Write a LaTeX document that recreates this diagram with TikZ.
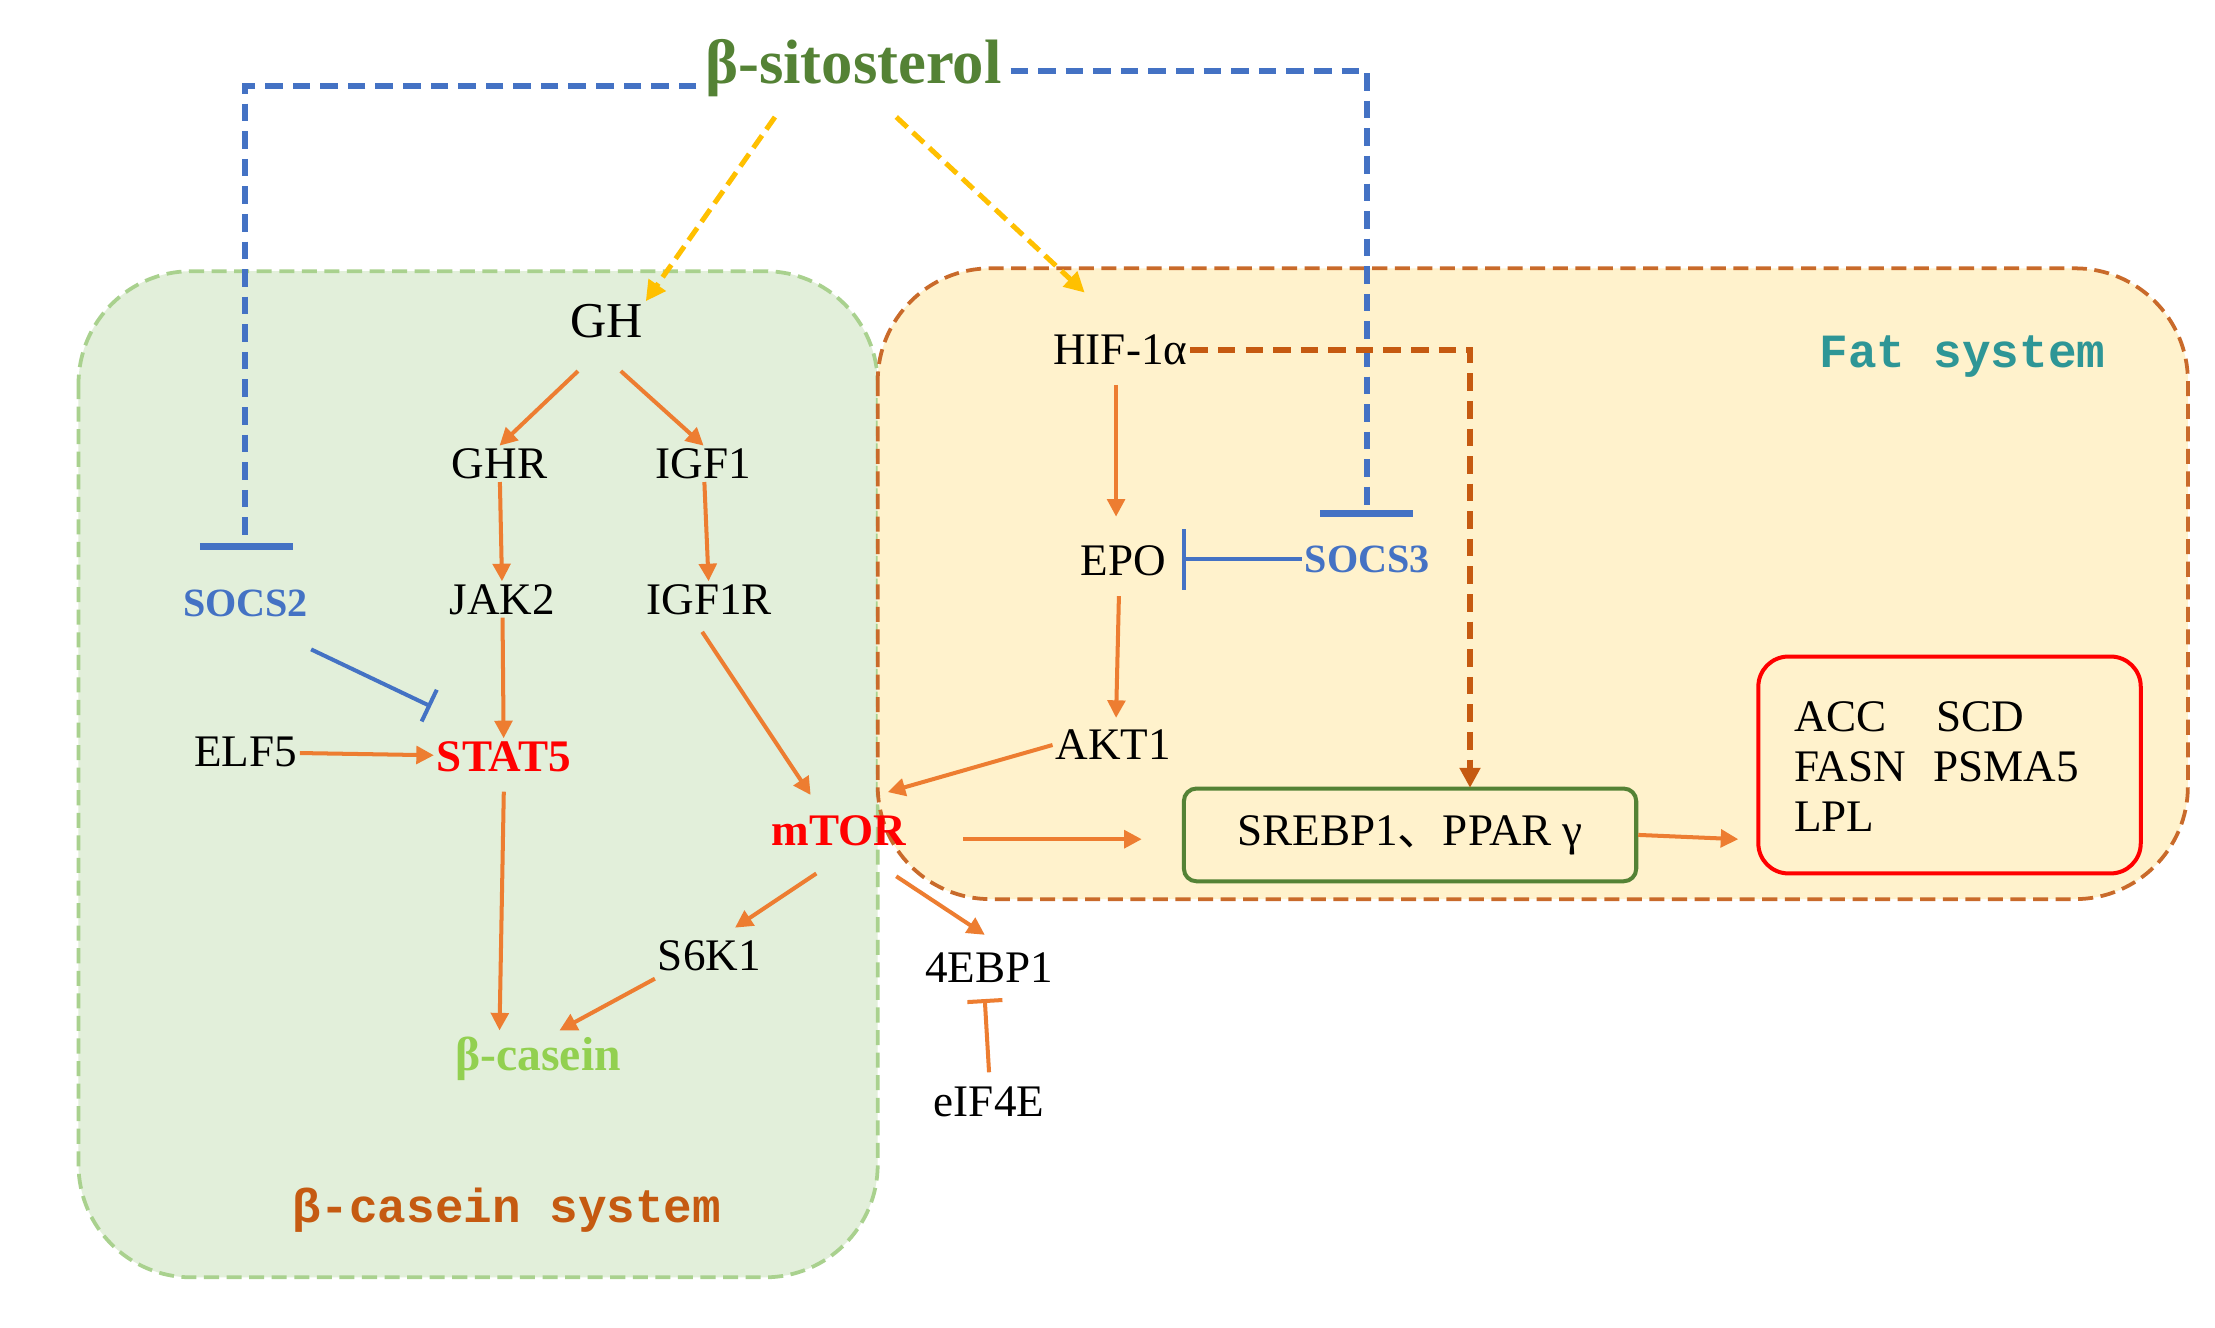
\documentclass[tikz,border=0pt]{standalone}
\usepackage{fontspec}
\setmainfont{Liberation Serif}
\newfontfamily\monof{Liberation Mono}
\newfontfamily\cjk{Noto Sans CJK SC}
\usetikzlibrary{arrows.meta}
\definecolor{arr}{RGB}{237,125,49}
\definecolor{blu}{RGB}{68,114,196}
\definecolor{yel}{RGB}{255,192,0}
\definecolor{dgreen}{RGB}{84,130,53}
\definecolor{lgreen}{RGB}{146,208,80}
\definecolor{brn}{RGB}{197,90,17}
\definecolor{teal2}{RGB}{46,150,150}
\definecolor{gfill}{RGB}{226,239,218}
\definecolor{yfill}{RGB}{255,242,204}
\definecolor{gline}{RGB}{169,209,142}
\begin{document}
\begin{tikzpicture}[x=0.02cm,y=-0.02cm,
 lab/.style={font=\fontsize{18}{20}\selectfont,inner sep=1pt},
 oa/.style={arr,line width=1.6pt,-{Triangle[length=7pt,width=7pt]}},
 ya/.style={yel,line width=2pt,dash pattern=on 6pt off 3pt,-{Triangle[length=8pt,width=8pt]}},
 bd/.style={blu,line width=2.4pt,dash pattern=on 7pt off 4pt},
 inh/.style={line width=1.6pt,-{Bar[width=14pt]}}]
\useasboundingbox (0,0) rectangle (1552,930);
\fill[white] (0,0) rectangle (1552,930);
% systems
\draw[gline,line width=1.5pt,dash pattern=on 6pt off 3pt,fill=gfill,rounded corners=45pt] (55,190) rectangle (615,895);
\draw[arr!85!black,line width=1.5pt,dash pattern=on 6pt off 3pt,fill=yfill,rounded corners=45pt] (615,188) rectangle (1533,630);
\node[font=\monof\bfseries\fontsize{19}{20}\selectfont,text=teal2] (fat) at (1375,250) {Fat system};
\node[font=\monof\bfseries\fontsize{19}{20}\selectfont,text=brn] (cas) at (355,848) {β-casein system};
% nodes
\node[font=\bfseries\fontsize{25}{28}\selectfont,text=dgreen] (bs) at (598,48) {β-sitosterol};
\node[lab,font=\fontsize{20}{22}\selectfont] (GH) at (425,225) {GH};
\node[lab] (GHR) at (350,325) {GHR};
\node[lab] (IGF1) at (493,325) {IGF1};
\node[lab] (JAK2) at (352,420) {JAK2};
\node[lab] (IGF1R) at (497,420) {IGF1R};
\node[lab,text=blu,font=\bfseries\fontsize{16}{18}\selectfont] (SOCS2) at (172,423) {SOCS2};
\node[lab] (ELF5) at (172,527) {ELF5};
\node[lab,text=red,font=\bfseries\fontsize{18}{20}\selectfont] (STAT5) at (353,530) {STAT5};
\node[lab,text=red,font=\bfseries\fontsize{18}{20}\selectfont] (mTOR) at (588,582) {mTOR};
\node[lab] (S6K1) at (497,670) {S6K1};
\node[lab,text=lgreen,font=\bfseries\fontsize{19}{20}\selectfont] (bc) at (377,742) {β-casein};
\node[lab] (EBP) at (693,678) {4EBP1};
\node[lab] (eIF) at (693,772) {eIF4E};
\node[lab] (HIF) at (785,245) {HIF-1α};
\node[lab] (EPO) at (787,393) {EPO};
\node[lab,text=blu,font=\bfseries\fontsize{16}{18}\selectfont] (SOCS3) at (958,392) {SOCS3};
\node[lab] (AKT1) at (780,522) {AKT1};
\node[draw=dgreen,line width=1.6pt,rounded corners=5pt,lab,minimum width=6.34cm,minimum height=1.3cm] (SP) at (988,585) {SREBP1{\cjk 、}PPAR γ};
\node[draw=red,line width=1.6pt,rounded corners=12pt,minimum width=5.36cm,minimum height=3.04cm] (RB) at (1366,536) {};
\node[lab,anchor=west,align=left] (genes) at (1255,537) {ACC\hspace{1.1em}SCD\\FASN\hspace{0.6em}PSMA5\\LPL};
% blue dashed inhibitions
\coordinate (bl) at (172,60); \coordinate (br) at (958,50);
\draw[bd] (bs.west|-bl) -- (bl) -- (172,383);
\draw[blu,line width=2.8pt] (140,383) -- (205,383);
\draw[bd] (bs.east|-br) -- (br) -- (958,360);
\draw[blu,line width=2.8pt] (925,360) -- (990,360);
% yellow
\draw[ya] (543,82) -- (GH.north east);
\draw[ya] (628,82) -- (760,205);
% brown dashed
\draw[brn,line width=2.4pt,dash pattern=on 7pt off 4pt,-{Triangle[length=8pt,width=8pt]}] (HIF.east) -- (1030,245) -- (1030,552);
% orange
\draw[oa] (405,260) -- (GHR.north);
\draw[oa] (435,260) -- (IGF1.north);
\draw[oa] (GHR) -- (JAK2);
\draw[oa] (IGF1) -- (IGF1R);
\draw[oa] (JAK2) -- (STAT5);
\draw[oa] (ELF5) -- (STAT5);
\draw[oa] (IGF1R.south) ++(-5,10) -- (568,557);
\draw[oa] (AKT1.west) -- (622,555);
\draw[oa] (HIF.south) ++(-3,12) -- (782,362);
\draw[oa] (EPO.south) ++(-3,12) -- (782,503);
\draw[oa] (675,588) -- (800,588);
\draw[oa] (SP.east) -- (1218,588);
\draw[oa] (572,612) -- (515,650);
\draw[oa] (628,614) -- (690,655);
\draw[oa] (STAT5.south) ++(0,12) -- (350,722);
\draw[oa] (S6K1.south west) ++(0,3) -- (392,722);
\draw[arr,inh] (eIF.north) ++(0,-8) -- (690,700);
% blue solid inhibitions
\draw[blu,inh] (218,455) -- (302,495);
\draw[blu,line width=1.6pt,-{Bar[width=24pt]}] (SOCS3.west) -- (828,392);
\end{tikzpicture}
\end{document}
